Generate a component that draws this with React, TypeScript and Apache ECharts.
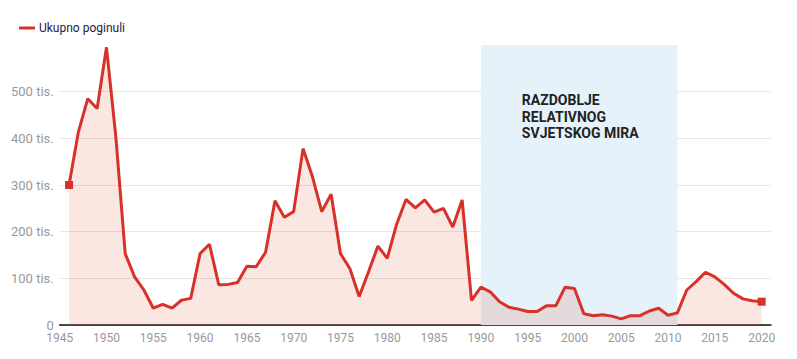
import React, { useEffect, useRef } from "react";
import * as echarts from "echarts";

const years = [
  1946, 1947, 1948, 1949, 1950, 1951, 1952, 1953, 1954, 1955, 1956, 1957, 1958, 1959,
  1960, 1961, 1962, 1963, 1964, 1965, 1966, 1967, 1968, 1969, 1970, 1971, 1972, 1973,
  1974, 1975, 1976, 1977, 1978, 1979, 1980, 1981, 1982, 1983, 1984, 1985, 1986, 1987,
  1988, 1989, 1990, 1991, 1992, 1993, 1994, 1995, 1996, 1997, 1998, 1999, 2000, 2001,
  2002, 2003, 2004, 2005, 2006, 2007, 2008, 2009, 2010, 2011, 2012, 2013, 2014, 2015,
  2016, 2017, 2018, 2019, 2020,
];

// thousands of deaths
const deaths = [
  300, 414, 485, 464, 595, 403, 153, 103, 75, 36, 44, 36, 53, 57,
  153, 173, 86, 87, 91, 126, 125, 156, 266, 231, 243, 378, 318, 243,
  280, 153, 121, 61, 114, 169, 143, 216, 269, 251, 268, 242, 250, 210,
  268, 53, 81, 71, 50, 38, 34, 29, 29, 41, 41, 81, 78, 24,
  20, 22, 19, 13, 20, 20, 30, 36, 21, 26, 75, 93, 113, 103,
  87, 68, 56, 52, 50,
];

const seriesName = "Ukupno poginuli";
const peacePeriod = [1990, 2011];
const peaceLabel = "RAZDOBLJE\nRELATIVNOG\nSVJETSKOG MIRA";

export default function App() {
  const ref = useRef<HTMLDivElement>(null);
  useEffect(() => {
    if (!ref.current) return;
    const chart = echarts.init(ref.current, undefined, { renderer: "svg" });
    const last = years.length - 1;
    const data = years.map((y, i) => {
      const item: any = { value: [y, deaths[i]] };
      if (i === 0 || i === last) {
        item.symbol = "rect";
        item.symbolSize = 8;
      }
      return item;
    });
    chart.setOption({
      animation: false,
      textStyle: { fontFamily: "Roboto" },
      legend: {
        left: 6,
        top: 9,
        itemWidth: 16,
        itemHeight: 3,
        itemGap: 10,
        icon: "rect",
        textStyle: { fontSize: 12, color: "#222244", fontFamily: "Roboto", padding: [0, 0, 0, -1] },
        data: [seriesName],
      },
      grid: { left: 51, right: 18, top: 37, bottom: 26 },
      xAxis: {
        type: "value",
        min: 1945,
        max: 2021,
        interval: 5,
        axisLine: { show: true, lineStyle: { color: "#111", width: 1.5 } },
        axisTick: { show: false },
        splitLine: { show: false },
        axisLabel: {
          color: "#999",
          fontSize: 12,
          margin: 7,
          showMaxLabel: false,
          formatter: (v: number) => (v % 5 === 0 ? String(v) : ""),
        },
      },
      yAxis: {
        type: "value",
        min: 0,
        max: 600,
        interval: 100,
        axisLine: { show: false },
        axisTick: { show: false },
        splitLine: { show: true, showMaxLine: false, lineStyle: { color: "#e6e6e6", width: 1 } },
        axisLabel: {
          color: "#999",
          fontSize: 13,
          margin: 6,
          showMaxLabel: false,
          formatter: (v: number) => (v === 0 ? "0" : v >= 600 ? "" : v + " tis."),
        },
      },
      series: [
        {
          type: "line",
          name: "peace",
          data: [],
          z: 1,
          silent: true,
          markArea: {
            silent: true,
            itemStyle: { color: "#e5f2f9" },
            label: {
              show: true,
              position: "insideTopLeft",
              distance: 0,
              offset: [41, 47],
              color: "#222",
              fontSize: 14,
              fontWeight: "bold",
              fontFamily: "Roboto",
              lineHeight: 16.5,
              formatter: peaceLabel,
            },
            data: [[{ xAxis: peacePeriod[0] }, { xAxis: peacePeriod[1] }]],
          },
        },
        {
          type: "line",
          name: seriesName,
          data,
          z: 2,
          symbol: "none",
          showSymbol: true,
          color: "#d8312a",
          lineStyle: { color: "#d8312a", width: 3 },
          itemStyle: { color: "#d8312a" },
          areaStyle: { color: "rgba(220,85,45,0.2)" },
        },
      ],
    });
    return () => chart.dispose();
  }, []);
  return <div ref={ref} style={{ width: 781, height: 343 }} />;
}
